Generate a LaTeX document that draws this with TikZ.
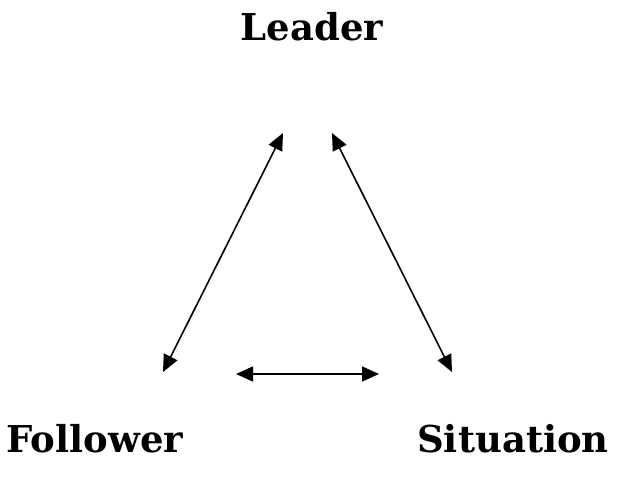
\documentclass[tikz,border=0pt]{standalone}
\usepackage{fontspec}
\setmainfont{DejaVu Serif}
\usetikzlibrary{arrows.meta}
\tikzset{
  role/.style={font=\fontsize{18.5}{22}\selectfont\bfseries, inner sep=0pt},
  link/.style={line width=0.8pt, {Triangle[length=8.5pt,width=7.5pt]}-{Triangle[length=8.5pt,width=7.5pt]}}
}
\begin{document}
\begin{tikzpicture}[x=0.5pt,y=-0.5pt]
\useasboundingbox (0,0) rectangle (620,477);
\node[role] (leader) at (312,27) {Leader};
\node[role] (follower) at (95,439) {Follower};
\node[role] (situation) at (513,439) {Situation};
\coordinate (lt) at (283,133);
\coordinate (lb) at (163,372);
\coordinate (rt) at (332,133);
\coordinate (rb) at (452,372);
\coordinate (bl) at (236,374);
\coordinate (br) at (379,374);
\draw[link] (lb) -- (lt);
\draw[link] (rb) -- (rt);
\draw[link] (bl) -- (br);
\end{tikzpicture}
\end{document}
